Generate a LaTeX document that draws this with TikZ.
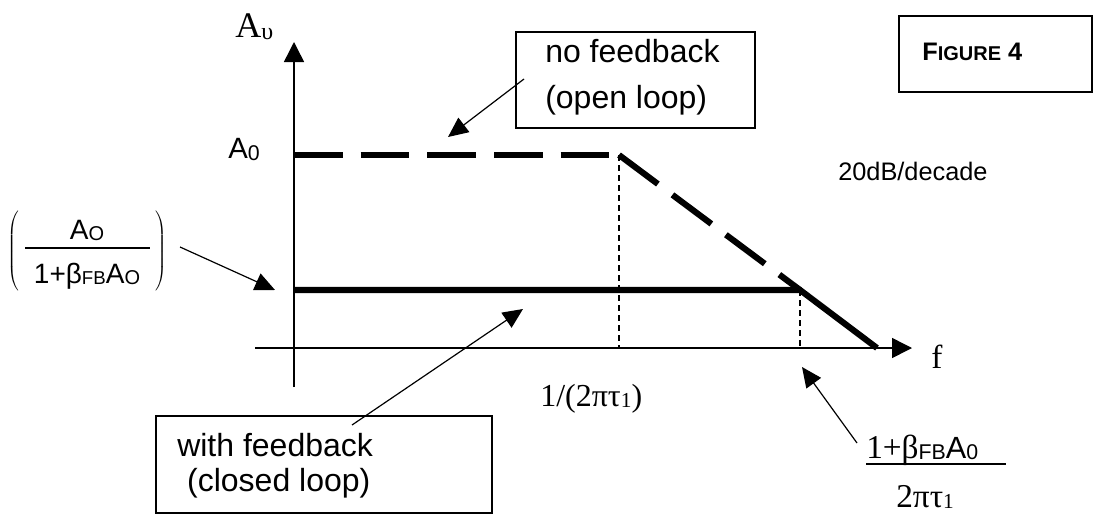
\documentclass[tikz,border=0pt]{standalone}
\usepackage{fontspec}
\setmainfont{Liberation Sans}
\newfontfamily\serif{Liberation Serif}
\usetikzlibrary{arrows.meta}

\newcommand{\lowsub}[2]{\raisebox{-1pt}{\fontsize{#1}{#1}\selectfont #2}}

\begin{document}
\begin{tikzpicture}[x=0.75pt,y=-0.75pt,
  axis/.style={line width=1.1pt},
  tri/.style={-{Triangle[length=15pt,width=15pt]}},
  ptr/.style={line width=0.9pt,-{Triangle[length=15pt,width=13.5pt]}},
  thickline/.style={line width=4.6pt},
  longdash/.style={thickline, dash pattern=on 36.4pt off 13.6pt},
  guide/.style={line width=0.8pt, dash pattern=on 4.5pt off 3pt},
  sanslbl/.style={inner sep=0pt, font=\fontsize{24}{28}\selectfont},
  seriflbl/.style={inner sep=0pt, font=\serif\fontsize{24}{28}\selectfont},
  callout/.style={draw, line width=1.1pt, inner sep=0pt}]
\useasboundingbox (0,0) rectangle (1094,521);

% axes
\coordinate (ybot) at (294,387);
\coordinate (ytop) at (294,42);
\coordinate (xleft) at (255,348);
\coordinate (xright) at (912,348);
\draw[axis,tri] (ybot) -- (ytop);
\draw[axis,tri] (xleft) -- (xright);

% corner points of the gain curves
\coordinate (A0) at (294,155);
\coordinate (p1) at (619,155);
\coordinate (Af) at (294,290);
\coordinate (p2) at (800,290);
\coordinate (fend) at (877,348);
\coordinate (p1x) at (619,348);
\coordinate (p2x) at (800,348);

\draw[guide] (p1) -- (p1x);
\draw[guide] (p2) -- (p2x);
\draw[longdash] (A0) -- (p1);
\draw[longdash] (p1) -- (p2);
\draw[thickline] (Af) -- (p2) -- (fend);

% axis labels
\node[seriflbl, anchor=base west, font=\serif\fontsize{27}{31}\selectfont] (Av) at (235,37)
  {A\raisebox{-1.5pt}{\fontsize{18}{18}\selectfont υ}};
\node[seriflbl, anchor=base west, font=\serif\fontsize{25}{29}\selectfont] (flbl) at (931,368) {f};
\node[sanslbl, anchor=base west, font=\fontsize{22}{26}\selectfont] (A0lbl) at (228,158)
  {A\raisebox{-2pt}{\fontsize{16}{16}\selectfont 0}};
\node[seriflbl, anchor=base west] (pole1) at (540,406) {1/(2πτ\lowsub{16}{1})};

% closed-loop gain
\node[sanslbl, anchor=base, font=\fontsize{21}{25}\selectfont] (lhsnum) at (87,239)
  {A\lowsub{15}{O}};
\node[sanslbl, anchor=base, font=\fontsize{21}{25}\selectfont] (lhsden) at (87,283)
  {1+β\lowsub{14}{FB}A\lowsub{15}{O}};
\coordinate (barL) at (25,248);
\coordinate (barR) at (150,248);
\draw[line width=1.1pt] (barL) -- (barR);
\node[inner sep=0pt] (lpar) at (14,252) {$\left(\vrule height 29pt depth 29pt width 0pt\right.$};
\node[inner sep=0pt] (rpar) at (161,252) {$\left.\vrule height 29pt depth 29pt width 0pt\right)$};

% closed-loop bandwidth
\node[anchor=base west, inner sep=0pt, font=\fontsize{23}{27}\selectfont] (bwtop) at (866,458)
  {{\serif\fontsize{25}{29}\selectfont 1+β}\lowsub{16}{FB}A\lowsub{16}{0}};
\coordinate (ulA) at (866,464);
\coordinate (ulB) at (1006,464);
\draw[line width=1.1pt] (ulA) -- (ulB);
\node[seriflbl, anchor=base west, font=\serif\fontsize{25}{29}\selectfont] (bwbot) at (896,507)
  {2πτ\lowsub{16}{1}};

% slope
\node[sanslbl, anchor=base west, font=\fontsize{19}{23}\selectfont] (slope) at (838,180) {20dB/decade};

% callout boxes
\node[callout, minimum width=179.25pt, minimum height=72pt] (nfbox) at (635.5,80) {};
\node[sanslbl, anchor=base west] (nf1) at (545,62) {no feedback};
\node[sanslbl, anchor=base west] (nf2) at (545,108) {(open loop)};

\node[callout, minimum width=252pt, minimum height=72.75pt] (wfbox) at (324,464.5) {};
\node[sanslbl, anchor=base west] (wf1) at (177,456) {with feedback};
\node[sanslbl, anchor=base west] (wf2) at (178,491) {\ (closed loop)};

\node[callout, minimum width=144.75pt, minimum height=57pt] (figbox) at (995.5,54) {};
\node[anchor=base west, inner sep=0pt, font=\bfseries] (figlbl) at (922,60)
  {{\fontsize{19}{22}\selectfont F}{\fontsize{15}{18}\selectfont IGURE}{\fontsize{19}{22}\selectfont\ 4}};

% pointers
\coordinate (nfS) at (524,79);
\coordinate (nfT) at (448,137);
\draw[ptr] (nfS) -- (nfT);
\coordinate (lhsS) at (180,247);
\coordinate (lhsT) at (275,290);
\draw[ptr] (lhsS) -- (lhsT);
\coordinate (wfS) at (352,425);
\coordinate (wfT) at (523,309);
\draw[ptr] (wfS) -- (wfT);
\coordinate (bwS) at (857,443);
\coordinate (bwT) at (802,367);
\draw[ptr] (bwS) -- (bwT);
\end{tikzpicture}
\end{document}
